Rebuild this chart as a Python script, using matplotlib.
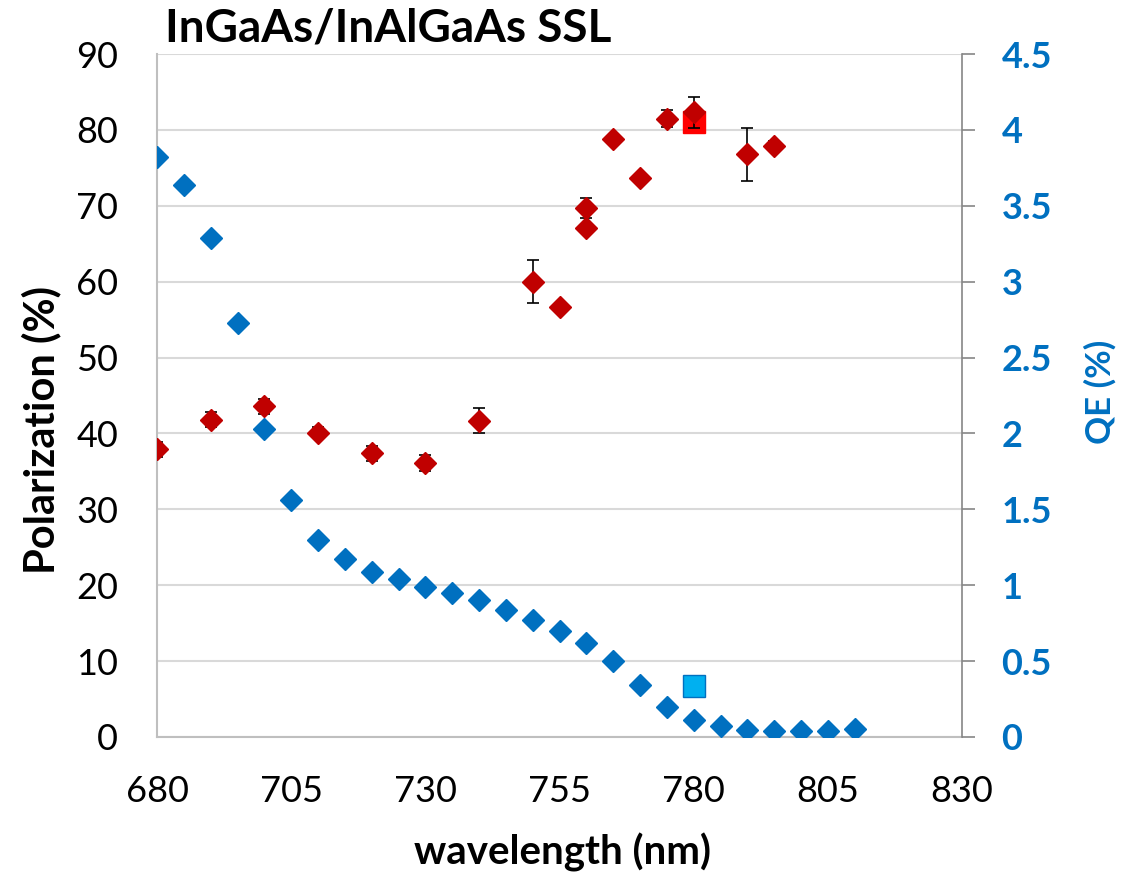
import matplotlib.pyplot as plt

plt.rcParams['font.family'] = ['Lato', 'DejaVu Sans']

# polarization (left axis), with error bars
pol_wl = [680, 690, 700, 710, 720, 730, 740, 750, 755, 760, 760, 765, 770, 775, 780, 790, 795]
pol = [37.9, 41.8, 43.6, 40.1, 37.4, 36.1, 41.7, 60.0, 56.7, 69.7, 67.1, 78.8, 73.7, 81.5, 82.3, 76.8, 77.9]
pol_err = [1.0, 1.0, 1.0, 0.7, 1.0, 1.0, 1.7, 2.8, 0.0, 1.3, 0.5, 0.0, 0.0, 1.1, 2.0, 3.5, 0.7]

# QE (right axis)
qe_wl = [680, 685, 690, 695, 700, 705, 710, 715, 720, 725, 730, 735, 740, 745, 750,
         755, 760, 765, 770, 775, 780, 785, 790, 795, 800, 805, 810]
qe = [3.82, 3.64, 3.29, 2.73, 2.03, 1.56, 1.30, 1.17, 1.09, 1.04, 0.99, 0.95, 0.90, 0.84, 0.77,
      0.70, 0.62, 0.50, 0.34, 0.20, 0.11, 0.07, 0.046, 0.04, 0.04, 0.04, 0.055]

# single reference points at 780 nm
ref_wl = [780]
ref_pol = [81.1]
ref_qe = [0.335]

red = '#C00000'
blue = '#0070C0'

fig = plt.figure(figsize=(11.35, 8.74), dpi=100)
ax = fig.add_axes([157/1135, 1 - 737/874, 805/1135, 683/874])
ax2 = ax.twinx()

ax.plot(ref_wl, ref_pol, 's', color='#FF0000', ms=16, zorder=2)
ax.errorbar(pol_wl, pol, yerr=pol_err, fmt='D', color=red, ms=11, mec=red,
            ecolor='black', elinewidth=1.2, capsize=4.5, capthick=1.2, zorder=3)

ax2.plot(qe_wl, qe, 'D', color=blue, ms=11, zorder=3)
ax2.plot(ref_wl, ref_qe, 's', color='#00B0F0', mec=blue, mew=1, ms=16, zorder=3)

ax.set_xlim(680, 830)
ax.set_ylim(0, 90)
ax2.set_ylim(0, 4.5)
ax.set_xticks(range(680, 831, 25))
ax.set_yticks(range(0, 91, 10))
ax2.set_yticks([i * 0.5 for i in range(10)])
ax2.set_yticklabels(['0', '0.5', '1', '1.5', '2', '2.5', '3', '3.5', '4', '4.5'])

ax.grid(axis='y', color='#D9D9D9', lw=1.5)
ax.set_axisbelow(True)

for a in (ax, ax2):
    a.spines['top'].set_visible(False)
ax.spines['left'].set_color('#BFBFBF')
ax.spines['bottom'].set_color('#BFBFBF')
ax.spines['left'].set_linewidth(1.5)
ax.spines['bottom'].set_linewidth(1.5)
ax.spines['right'].set_visible(False)
ax2.spines['left'].set_visible(False)
ax2.spines['bottom'].set_visible(False)
ax2.spines['right'].set_color('#868686')
ax2.spines['right'].set_linewidth(1.2)

ax.tick_params(axis='y', length=0, pad=28, labelsize=26)
ax.tick_params(axis='x', length=0, pad=27, labelsize=26)
ax2.tick_params(axis='y', length=9.5, width=1.2, color='#868686', direction='out',
                pad=19, labelsize=26, labelcolor=blue)
for t in ax2.get_yticklabels():
    t.set_fontweight('bold')

fig.text(165/1135, 1 - 42/874, 'InGaAs/InAlGaAs SSL', fontsize=33, fontweight='bold', va='baseline')
fig.text(41/1135, 1 - 430/874, 'Polarization (%)', fontsize=30, fontweight='bold',
         rotation=90, ha='center', va='center')
fig.text(1100/1135, 1 - 392/874, 'QE (%)', fontsize=25, fontweight='bold', color=blue,
         rotation=90, ha='center', va='center')
fig.text(563/1135, 1 - 852/874, 'wavelength (nm)', fontsize=29, fontweight='bold',
         ha='center', va='center')

fig.savefig('out.png', dpi=100)
